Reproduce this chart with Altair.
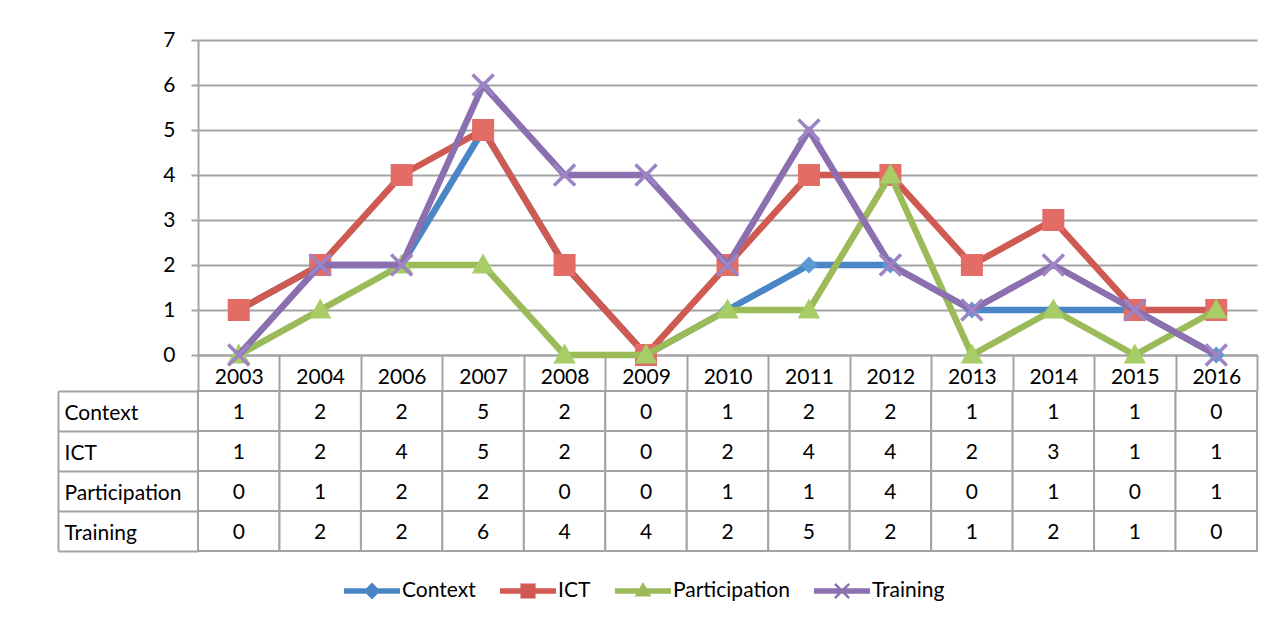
import altair as alt
import pandas as pd

# ---------------- data ----------------
years = ["2003", "2004", "2006", "2007", "2008", "2009", "2010",
         "2011", "2012", "2013", "2014", "2015", "2016"]
series = ["Context", "ICT", "Participation", "Training"]
context = [1, 2, 2, 5, 2, 0, 1, 2, 2, 1, 1, 1, 0]
ict = [1, 2, 4, 5, 2, 0, 2, 4, 4, 2, 3, 1, 1]
participation = [0, 1, 2, 2, 0, 0, 1, 1, 4, 0, 1, 0, 1]
training = [0, 2, 2, 6, 4, 4, 2, 5, 2, 1, 2, 1, 0]
y_ticks = [0, 1, 2, 3, 4, 5, 6, 7]

series_values = {"Context": context, "ICT": ict,
                 "Participation": participation, "Training": training}
df = pd.DataFrame([{"year": y, "series": s, "value": v}
                   for s in series for y, v in zip(years, series_values[s])])

# ---------------- styles ----------------
FONT = "Lato"
FS = 21
GRID = "#A3A3A3"
line_colors = ["#4A86C5", "#CF5A51", "#9BBB59", "#8B6FAF"]
marker_fills = ["#5B9BD5", "#E46C66", "#A8CC66", "#9D84C4"]


def xpath(scale):
    pts = [(0.622, -0.792), (0.792, -0.622), (0.17, 0), (0.792, 0.622),
           (0.622, 0.792), (0, 0.17), (-0.622, 0.792), (-0.792, 0.622),
           (-0.17, 0), (-0.792, -0.622), (-0.622, -0.792), (0, -0.17)]
    return "M" + "L".join(f"{x*scale:.3f},{y*scale:.3f}" for x, y in pts) + "Z"


marker_paths = [
    "M0,-0.78L0.78,0L0,0.78L-0.78,0Z",
    "M-1,-1H1V1H-1Z",
    "M0,-1.05L1.02,0.78H-1.02Z",
    xpath(1.35),
]
LEG_LINE = "M-1,-0.1H1V0.1H-1Z"
legend_paths = [
    LEG_LINE + "M0,-0.3L0.3,0L0,0.3L-0.3,0Z",
    LEG_LINE + "M-0.27,-0.27H0.27V0.27H-0.27Z",
    LEG_LINE + "M0,-0.32L0.3,0.2H-0.3Z",
    LEG_LINE + xpath(0.36),
]

legend = alt.Legend(
    title=None, orient="none", legendX=146, legendY=523, direction="horizontal",
    labelFont=FONT, labelFontSize=FS, labelColor="black", labelOffset=2,
    columnPadding=24, symbolSize=3136, symbolStrokeWidth=0, symbolOpacity=1,
)

x_enc = alt.X("year:N", sort=years,
              scale=alt.Scale(type="band", paddingInner=0, paddingOuter=0),
              axis=alt.Axis(title=None, labelAngle=0, tickBand="extent", tickSize=35,
                            tickColor=GRID, tickWidth=2, domainColor=GRID, domainWidth=2,
                            labelPadding=-13, labelBaseline="middle", grid=False,
                            labelFont=FONT, labelFontSize=FS, labelColor="black"))
y_enc = alt.Y("value:Q", scale=alt.Scale(domain=[0, 7], nice=False),
              axis=alt.Axis(title=None, values=y_ticks, tickSize=7, tickColor=GRID,
                            tickWidth=2, domainColor=GRID, domainWidth=2,
                            gridColor=GRID, gridWidth=2, labelPadding=16,
                            labelFont=FONT, labelFontSize=FS, labelColor="black"))

layers = []
for i, s in enumerate(series):
    base = alt.Chart(df).transform_filter(alt.datum.series == s)
    layers.append(base.mark_line(strokeWidth=6.5, strokeJoin="round", color=line_colors[i])
                  .encode(x=x_enc, y=y_enc))
    layers.append(base.mark_point(shape=marker_paths[i], size=484, filled=True,
                                  fill=marker_fills[i], strokeWidth=0, opacity=1)
                  .encode(x=x_enc, y=y_enc))

# legend-only layer: no rows drawn, entries come from the scales' domains
legend_layer = alt.Chart(df).transform_filter("false").mark_point(
    filled=True, opacity=1, size=3136, strokeWidth=0
).encode(
    color=alt.Color("series:N", scale=alt.Scale(domain=series, range=line_colors),
                    legend=legend),
    shape=alt.Shape("series:N", scale=alt.Scale(domain=series, range=legend_paths),
                    legend=legend),
)
layers.append(legend_layer)

top = alt.layer(*layers).properties(width=1059, height=315)

# ---------------- data table ----------------
tx = alt.X("year:N", sort=years,
           scale=alt.Scale(type="band", paddingInner=0, paddingOuter=0), axis=None)
cells = alt.Chart(df).mark_rect(fill="white", stroke=GRID, strokeWidth=2).encode(
    x=tx,
    y=alt.Y("series:N", sort=series,
            scale=alt.Scale(paddingInner=0, paddingOuter=0),
            axis=alt.Axis(title=None, orient="left", offset=140, labels=False,
                          ticks=False, domain=True, domainColor=GRID, domainWidth=2,
                          grid=False)),
)
texts = alt.Chart(df).mark_text(font=FONT, fontSize=FS, color="black", dy=2).encode(
    x=tx,
    y=alt.Y("series:N", sort=series,
            scale=alt.Scale(paddingInner=0, paddingOuter=0),
            axis=alt.Axis(title=None, orient="left", labelAlign="left", labelPadding=-6,
                          tickSize=140, tickBand="extent", tickColor=GRID, tickWidth=2,
                          domain=False, grid=False, labelFont=FONT, labelFontSize=FS,
                          labelColor="black", labelOffset=2)),
    text="value:Q",
)
table = alt.layer(cells, texts).resolve_axis(y="independent").properties(
    width=1059, height=160)

chart = alt.vconcat(top, table, spacing=36, bounds="flush").properties(
    padding={"left": 49, "top": 21, "right": 5, "bottom": 5}
).configure_view(stroke=None)

chart.save("out.html", embed_options={"renderer": "svg", "actions": False})
